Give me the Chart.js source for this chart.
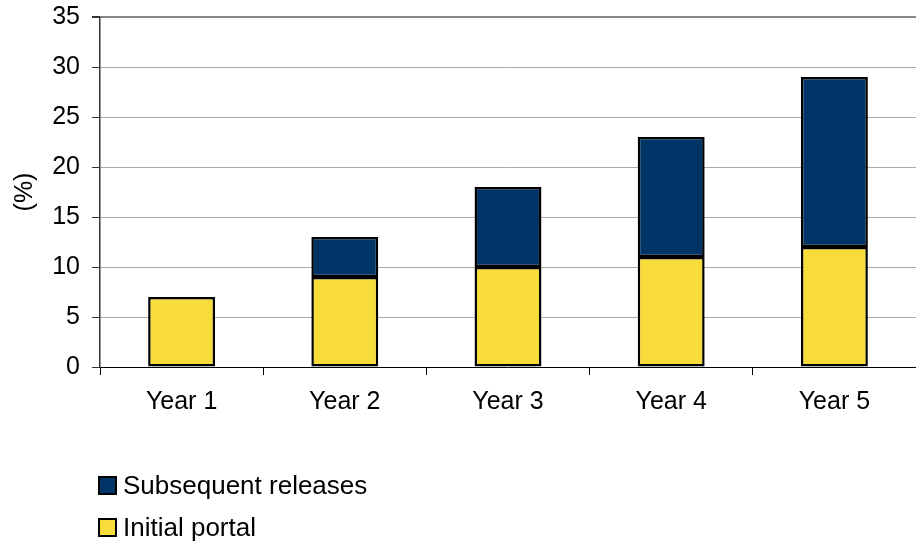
<!DOCTYPE html>
<html>
<head>
<meta charset="utf-8">
<script src="https://cdn.jsdelivr.net/npm/chart.js@4"></script>
<style>
  body { margin: 0; background: #fff; font-family: "Liberation Sans", Arial, sans-serif; }
  #wrap { position: relative; width: 916px; height: 544px; }
  #legend { position: absolute; left: 98px; top: 471px; font-size: 26px; color: #000; }
  .item { display: flex; align-items: center; height: 28px; margin-bottom: 14px; }
  .box { width: 15px; height: 15px; border: 2px solid #000; margin-right: 6px; }
</style>
</head>
<body>
<div id="wrap">
  <canvas id="barChart" width="916" height="544"></canvas>
  <div id="legend"></div>
</div>
<script>
var categories = ["Year 1", "Year 2", "Year 3", "Year 4", "Year 5"];
var initialPortal = [7, 9, 10, 11, 12];
var subsequentReleases = [0, 4, 8, 12, 17];
var yTicks = [0, 5, 10, 15, 20, 25, 30, 35];

var yellow = '#F7DC3A';
var navy = '#003366';
var axisFont = { family: 'Liberation Sans', size: 25 };

// legend drawn in html, stacked vertically like the original
var legendItems = [
  { label: "Subsequent releases", color: navy },
  { label: "Initial portal", color: yellow }
];
document.getElementById('legend').innerHTML = legendItems.map(function (it) {
  return '<div class="item"><span class="box" style="background:' + it.color + '"></span>' + it.label + '</div>';
}).join('');

var ctx = document.getElementById("barChart").getContext('2d');
var myBarChart = new Chart(ctx, {
  type: 'bar',
  data: {
    labels: categories,
    datasets: [{
        label: "Initial portal",
        data: initialPortal,
        backgroundColor: yellow,
        borderColor: '#000',
        borderWidth: 2.5,
        borderSkipped: false
      },
      {
        label: "Subsequent releases",
        data: subsequentReleases,
        backgroundColor: navy,
        borderColor: '#000',
        borderWidth: 2.5,
        borderSkipped: false
      }
    ]
  },
  options: {
    responsive: false,
    animation: false,
    barPercentage: 0.41,
    categoryPercentage: 1,
    layout: { padding: { top: 17, right: 0, left: 0, bottom: 0 } },
    plugins: {
      legend: { display: false },
      tooltip: { enabled: false }
    },
    scales: {
      x: {
        stacked: true,
        offset: true,
        afterFit: function (scale) {
          scale.height = 177;
          scale.paddingLeft = 0;
          scale.paddingRight = 0;
        },
        grid: {
          offset: true,
          drawOnChartArea: false,
          tickLength: 8,
          tickColor: '#000',
          tickWidth: 1
        },
        border: { color: '#000', width: 1 },
        ticks: {
          color: '#000',
          padding: 12,
          font: axisFont
        }
      },
      y: {
        stacked: true,
        min: 0,
        max: 35,
        afterFit: function (scale) {
          scale.width = 100;
          scale.paddingTop = 0;
          scale.paddingBottom = 0;
        },
        afterBuildTicks: function (scale) {
          scale.ticks = yTicks.map(function (v) { return { value: v }; });
        },
        grid: {
          color: function (c) { return c.tick && c.tick.value === 35 ? '#888' : '#aaa'; },
          lineWidth: function (c) { return c.tick && c.tick.value === 35 ? 2 : 1; },
          tickLength: 8,
          tickColor: '#333'
        },
        border: { color: '#333', width: 1.5 },
        ticks: {
          color: '#000',
          padding: 12,
          font: axisFont
        },
        title: {
          display: true,
          text: '(%)',
          color: '#000',
          padding: { top: 10, bottom: 0 },
          font: axisFont
        }
      }
    }
  }
});
</script>
</body>
</html>
